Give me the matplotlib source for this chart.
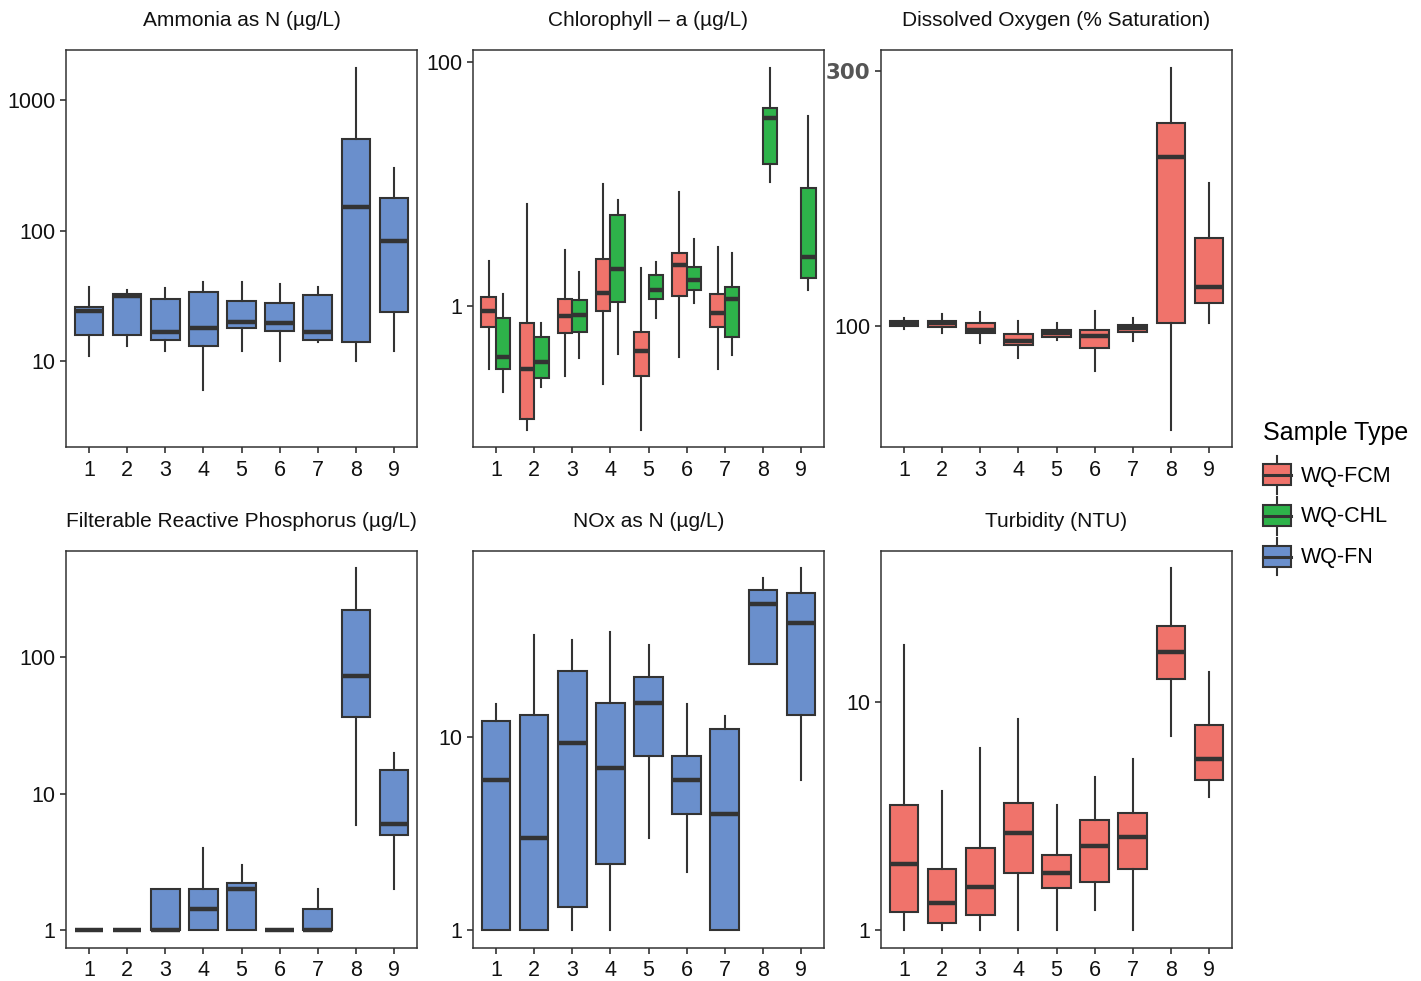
import numpy as np
import matplotlib
matplotlib.use("Agg")
import matplotlib.pyplot as plt
from matplotlib.patches import Patch, Rectangle
from matplotlib.lines import Line2D
from matplotlib.legend_handler import HandlerBase
from matplotlib.ticker import FixedLocator, FixedFormatter, NullLocator

plt.rcParams['font.family'] = ['Liberation Sans Narrow', 'Liberation Sans', 'DejaVu Sans']

# Datos: (min, q1, mediana, q3, max) por estación 1..9
sites = [1, 2, 3, 4, 5, 6, 7, 8, 9]

ammonia_fn = [(10.9, 15.9, 24.4, 26.2, 37.0), (13.0, 15.9, 31.8, 32.9, 34.9),
              (12.0, 14.5, 16.9, 30.1, 36.1), (6.0, 13.0, 18.1, 33.9, 40.8),
              (12.0, 17.9, 20.0, 28.9, 40.8), (10.0, 17.1, 19.6, 28.0, 38.8),
              (14.1, 14.5, 16.9, 31.9, 37.0), (10.0, 14.1, 152, 506, 1766),
              (12.0, 23.8, 84, 178, 300)]

chl_fcm = [(0.308, 0.683, 0.91, 1.19, 2.36), (0.0985, 0.121, 0.310, 0.731, 6.89),
           (0.272, 0.610, 0.839, 1.15, 2.90), (0.234, 0.91, 1.285, 2.42, 10.0),
           (0.0985, 0.268, 0.429, 0.617, 2.06), (0.386, 1.21, 2.17, 2.72, 8.63),
           (0.308, 0.683, 0.877, 1.27, 3.05)]
chl_chl = [(0.199, 0.308, 0.386, 0.798, 1.27), (0.218, 0.262, 0.351, 0.562, 0.731),
           (0.379, 0.617, 0.855, 1.12, 1.91), (0.408, 1.08, 2.03, 5.60, 7.43),
           (0.803, 1.155, 1.37, 1.80, 2.30), (1.065, 1.37, 1.65, 2.12, 3.59),
           (0.401, 0.558, 1.15, 1.45, 2.72), (10.3, 14.6, 34.7, 42.1, 89.3),
           (1.37, 1.70, 2.54, 9.25, 35.8)]

do_fcm = [(98.6, 100.0, 101.2, 101.9, 103.3), (96.9, 99.4, 101.2, 102.2, 105.3),
          (92.8, 96.9, 98.0, 101.0, 106.1), (87.0, 92.1, 93.5, 96.5, 102.0),
          (93.9, 95.4, 96.9, 98.3, 101.0), (82.2, 90.9, 95.5, 98.0, 106.7),
          (93.6, 97.2, 99.0, 100.3, 103.3), (63.9, 101.2, 207, 239, 304),
          (101.2, 110.4, 118.1, 146, 184.8)]

frp_fn = [(1, 1, 1, 1, 1), (1, 1, 1, 1, 1), (1, 1, 1, 2.0, 2.0),
          (1, 1, 1.42, 2.0, 4.0), (1, 1, 2.0, 2.22, 2.99), (1, 1, 1, 1, 1),
          (1, 1, 1, 1.42, 2.0), (5.94, 36.5, 73.4, 223, 456),
          (2.0, 4.94, 6.04, 15.0, 19.9)]

nox_fn = [(1, 1, 6.04, 12.1, 14.9), (1, 1, 3.0, 13.1, 34.0), (1, 1.32, 9.38, 22.1, 31.9),
          (1, 2.20, 6.94, 15.1, 35.2), (3.0, 8.0, 15.0, 20.5, 30.1),
          (2.0, 4.0, 6.04, 8.0, 14.9), (1, 1, 3.99, 11.0, 12.9),
          (24.0, 24.0, 49.3, 58.0, 67.2), (6.04, 13.1, 39.3, 56.2, 75.4)]

turb_fcm = [(1, 1.195, 1.95, 3.55, 17.7), (1, 1.073, 1.32, 1.85, 4.08),
            (1, 1.16, 1.545, 2.30, 6.30), (1, 1.78, 2.65, 3.59, 8.39),
            (1, 1.53, 1.77, 2.14, 3.52), (1.23, 1.63, 2.33, 3.03, 4.67),
            (1, 1.86, 2.57, 3.25, 5.60), (7.10, 12.6, 16.6, 21.6, 38.8),
            (3.84, 4.55, 5.64, 7.90, 13.5)]

titles = ["Ammonia as N (µg/L)", "Chlorophyll – a (µg/L)", "Dissolved Oxygen (% Saturation)",
          "Filterable Reactive Phosphorus (µg/L)", "NOx as N (µg/L)", "Turbidity (NTU)"]
yticks = [[10, 100, 1000], [1, 100], [100, 300], [1, 10, 100], [1, 10], [1, 10]]
ylims = [(2.21, 2410), (0.0711, 124.5), (59.3, 328), (0.738, 604), (0.807, 92.7), (0.834, 45.9)]

# Colores
rojo = '#F0736B'
verde = '#2EB34A'
azul = '#6A8FCC'
gris = '#333333'
labels = ['WQ-FCM', 'WQ-CHL', 'WQ-FN']

# (datos, color, desplazamiento, ancho) por panel
panels = [
    [(ammonia_fn, azul, 0.0, 0.75)],
    [(chl_fcm, rojo, -0.19, 0.38), (chl_chl, verde, 0.19, 0.38)],
    [(do_fcm, rojo, 0.0, 0.75)],
    [(frp_fn, azul, 0.0, 0.75)],
    [(nox_fn, azul, 0.0, 0.75)],
    [(turb_fcm, rojo, 0.0, 0.75)],
]


def draw_boxes(ax, data, color, dx, width):
    stats = [dict(whislo=d[0], q1=d[1], med=d[2], q3=d[3], whishi=d[4], fliers=[])
             for d in data]
    pos = np.array(sites[:len(data)]) + dx
    ax.bxp(stats, positions=pos, widths=width, patch_artist=True, showcaps=False,
           boxprops=dict(facecolor=color, edgecolor=gris, linewidth=1.5),
           medianprops=dict(color=gris, linewidth=3.2, solid_capstyle='butt'),
           whiskerprops=dict(color=gris, linewidth=1.5), manage_ticks=False)


class BoxKey(HandlerBase):
    def create_artists(self, legend, orig_handle, xdescent, ydescent, width, height,
                       fontsize, trans):
        x0, y0 = -xdescent, -ydescent
        cx = x0 + width / 2
        wl = Line2D([cx, cx], [y0, y0 + height], color=gris, lw=1.5, transform=trans)
        rect = Rectangle((x0, y0 + 0.22 * height), width, 0.56 * height,
                         facecolor=orig_handle.get_facecolor(), edgecolor=gris, lw=1.5,
                         transform=trans)
        md = Line2D([x0, x0 + width], [y0 + height / 2] * 2, color=gris, lw=2.2,
                    transform=trans)
        return [wl, rect, md]


W, H = 1421, 981
fig = plt.figure(figsize=(W / 100, H / 100), dpi=100)
lefts = [66, 473, 881]
tops = [50, 551]
aw, ah = 351, 397

for i in range(6):
    r, c = divmod(i, 3)
    ax = fig.add_axes([lefts[c] / W, 1 - (tops[r] + ah) / H, aw / W, ah / H])
    for data, color, dx, wd in panels[i]:
        draw_boxes(ax, data, color, dx, wd)
    ax.set_yscale('log')
    ax.set_ylim(*ylims[i])
    ax.set_xlim(0.4, 9.6)
    ax.set_xticks(sites)
    ax.set_xticklabels([str(s) for s in sites])
    ax.yaxis.set_major_locator(FixedLocator(yticks[i]))
    ax.yaxis.set_major_formatter(FixedFormatter([str(t) for t in yticks[i]]))
    ax.yaxis.set_minor_locator(NullLocator())
    ax.tick_params(axis='both', length=4, width=1.2, color=gris, labelsize=15.5,
                   labelcolor='#111111')
    ax.tick_params(axis='x', pad=5)
    for sp in ax.spines.values():
        sp.set_color(gris)
        sp.set_linewidth(1.1)
    ax.set_title(titles[i], fontsize=15, pad=17, color='#111111')
    if i == 2:
        # etiqueta 300 en negrita gris
        for lab in ax.get_yticklabels():
            if lab.get_text() == '300':
                lab.set_fontweight('bold')
                lab.set_color('#555555')
                lab.set_family(['DejaVu Sans'])

handles = [Patch(facecolor=col) for col in [rojo, verde, azul]]
leg = fig.legend(handles, labels, handler_map={Patch: BoxKey()}, loc='upper left',
                 bbox_to_anchor=(1248 / W, 1 - 406 / H), frameon=False, fontsize=15.5,
                 title='Sample Type', title_fontsize=18, handlelength=1.3,
                 handleheight=2.3, handletextpad=0.45, labelspacing=0.16,
                 alignment='left', borderpad=0.2)
leg._legend_box.sep = 8

fig.savefig('out.png', dpi=100)
